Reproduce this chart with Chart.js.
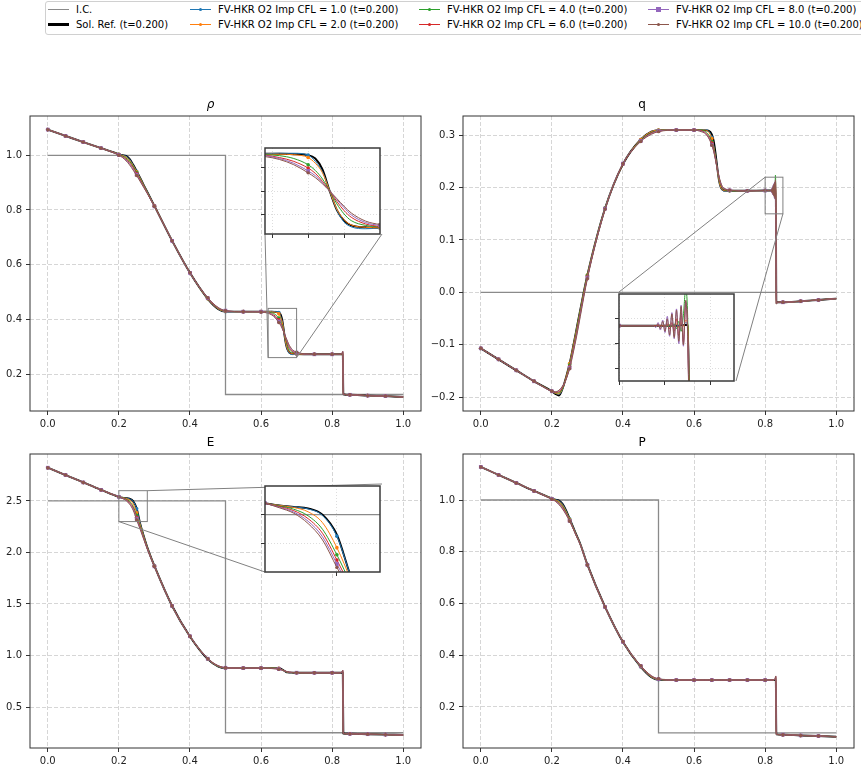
<!DOCTYPE html>
<html><head><meta charset="utf-8">
<script src="https://cdn.jsdelivr.net/npm/chart.js@4.4.0/dist/chart.umd.min.js"></script>
<style>
html,body{margin:0;padding:0;background:#fff;width:861px;height:771px;overflow:hidden;position:relative;font-family:'DejaVu Sans',sans-serif;}
canvas{position:absolute;}
canvas.inset{z-index:2;}
#legendBox{position:absolute;left:45px;top:1px;width:840px;height:32px;border:1px solid #d0d0d0;border-radius:3px;background:#fff;z-index:5;}
.lt{position:absolute;font-size:10px;line-height:12px;color:#000;white-space:nowrap;z-index:6;}
.lh{position:absolute;z-index:6;}
.lm{position:absolute;z-index:7;}
</style></head><body>
<div id="legendBox"></div>
<canvas id="cRho" width="430" height="338" style="left:0;top:95px;width:430px;height:338px"></canvas>
<canvas id="cQ" width="431" height="338" style="left:430px;top:95px;width:431px;height:338px"></canvas>
<canvas id="cE" width="430" height="338" style="left:0;top:433px;width:430px;height:338px"></canvas>
<canvas id="cP" width="431" height="338" style="left:430px;top:433px;width:431px;height:338px"></canvas>
<canvas id="iRho" class="inset" width="125" height="96" style="left:259px;top:144px;width:125px;height:96px"></canvas>
<canvas id="iQ" class="inset" width="125" height="97" style="left:613px;top:290px;width:125px;height:97px"></canvas>
<canvas id="iE" class="inset" width="125" height="96" style="left:259px;top:482px;width:125px;height:96px"></canvas>
<script>
// ---------------- data ----------------
const seriesNames = ['I.C.', 'Sol. Ref. (t=0.200)',
  'FV-HKR O2 Imp CFL = 1.0 (t=0.200)', 'FV-HKR O2 Imp CFL = 2.0 (t=0.200)',
  'FV-HKR O2 Imp CFL = 4.0 (t=0.200)', 'FV-HKR O2 Imp CFL = 6.0 (t=0.200)',
  'FV-HKR O2 Imp CFL = 8.0 (t=0.200)', 'FV-HKR O2 Imp CFL = 10.0 (t=0.200)'];
const seriesColors = ['#8a8a8a', '#000000', '#1f77b4', '#ff7f0e', '#2ca02c', '#d62728', '#9467bd', '#8c564b'];

const xTicks = [0, 0.2, 0.4, 0.6, 0.8, 1.0];
const rhoTicks = [0.2, 0.4, 0.6, 0.8, 1.0];
const qTicks = [-0.2, -0.1, 0.0, 0.1, 0.2, 0.3];
const ETicks = [0.5, 1.0, 1.5, 2.0, 2.5];
const PTicks = [0.2, 0.4, 0.6, 0.8, 1.0];

// initial condition
const icX = [0, 0.5, 0.5, 1.0];
const icRho = [1.0, 1.0, 0.125, 0.125];
const icQ = [0, 0, 0, 0];
const icE = [2.5, 2.5, 0.25, 0.25];
const icP = [1.0, 1.0, 0.1, 0.1];

// grid for rho, E, P
const X = [0,0.05,0.1,0.15,0.2, 0.21,0.22,0.23,0.24,0.25, 0.26,0.27,0.28,0.3,0.35, 0.4,0.45,0.48,0.5,0.55,
  0.6,0.62,0.63,0.64,0.65, 0.655,0.66,0.665,0.67,0.675, 0.68,0.69,0.7,0.75,0.8, 0.82,0.828,0.83,0.8315,0.85, 0.9,0.95,1.0];

const rho_ref = [1.094,1.071,1.048,1.026,1.004, 1.000,0.998,0.987,0.966,0.942, 0.917,0.891,0.866,0.815,0.687, 0.570,0.475,0.437,0.428,0.428,
  0.428,0.428,0.428,0.427,0.425, 0.418,0.395,0.350,0.310,0.288, 0.278,0.274,0.273,0.272,0.272, 0.272,0.272,0.272,0.126,0.124, 0.121,0.119,0.116];
const rho_cfl1 = [1.094,1.071,1.048,1.026,1.004, 1.000,0.997,0.986,0.965,0.941, 0.917,0.891,0.866,0.815,0.687, 0.570,0.475,0.437,0.428,0.428,
  0.428,0.428,0.429,0.429,0.425, 0.412,0.390,0.350,0.310,0.285, 0.275,0.271,0.272,0.272,0.272, 0.272,0.273,0.274,0.126,0.124, 0.121,0.119,0.116];
const rho_cfl2 = [1.094,1.071,1.048,1.026,1.004, 0.999,0.994,0.982,0.963,0.940, 0.916,0.890,0.865,0.815,0.687, 0.570,0.475,0.438,0.429,0.428,
  0.428,0.427,0.427,0.426,0.420, 0.408,0.388,0.350,0.312,0.290, 0.279,0.274,0.273,0.272,0.272, 0.272,0.274,0.276,0.126,0.124, 0.121,0.119,0.116];
const rho_cfl4 = [1.094,1.071,1.048,1.026,1.003, 0.997,0.990,0.978,0.960,0.937, 0.913,0.888,0.864,0.814,0.687, 0.570,0.476,0.440,0.430,0.428,
  0.428,0.426,0.424,0.418,0.405, 0.393,0.375,0.350,0.323,0.302, 0.288,0.278,0.275,0.272,0.272, 0.272,0.275,0.279,0.126,0.124, 0.121,0.119,0.116];
const rho_cfl6 = [1.094,1.071,1.048,1.026,1.002, 0.995,0.986,0.973,0.955,0.933, 0.910,0.886,0.862,0.814,0.687, 0.570,0.477,0.441,0.431,0.428,
  0.428,0.425,0.420,0.412,0.398, 0.387,0.370,0.350,0.328,0.309, 0.295,0.281,0.276,0.272,0.272, 0.272,0.276,0.281,0.126,0.124, 0.121,0.119,0.116];
const rho_cfl8 = [1.094,1.071,1.048,1.026,1.001, 0.993,0.983,0.969,0.950,0.929, 0.907,0.884,0.861,0.813,0.687, 0.570,0.478,0.442,0.432,0.428,
  0.428,0.424,0.418,0.408,0.392, 0.382,0.367,0.350,0.332,0.315, 0.300,0.284,0.278,0.272,0.272, 0.272,0.277,0.283,0.126,0.124, 0.121,0.119,0.116];
const rho_cfl10 = [1.094,1.071,1.048,1.026,1.000, 0.992,0.980,0.965,0.946,0.926, 0.904,0.882,0.860,0.813,0.687, 0.571,0.479,0.443,0.432,0.428,
  0.427,0.422,0.416,0.405,0.388, 0.378,0.365,0.350,0.334,0.318, 0.304,0.287,0.280,0.272,0.272, 0.272,0.277,0.283,0.126,0.124, 0.121,0.119,0.116];

const E_ref = [2.823,2.752,2.680,2.608,2.540, 2.532,2.527,2.522,2.500,2.430, 2.280,2.160,2.050,1.870,1.480, 1.185,0.965,0.892,0.877,0.877,
  0.877,0.877,0.877,0.877,0.876, 0.872,0.863,0.852,0.842,0.836, 0.834,0.833,0.832,0.832,0.832, 0.832,0.832,0.832,0.243,0.240, 0.236,0.232,0.228];
const E_cfl1 = [2.823,2.752,2.680,2.608,2.540, 2.532,2.527,2.520,2.497,2.425, 2.280,2.160,2.050,1.870,1.480, 1.185,0.965,0.892,0.877,0.877,
  0.877,0.877,0.877,0.878,0.876, 0.870,0.862,0.852,0.842,0.835, 0.833,0.832,0.832,0.832,0.832, 0.832,0.834,0.838,0.243,0.240, 0.236,0.232,0.228];
const E_cfl2 = [2.823,2.752,2.680,2.608,2.540, 2.532,2.525,2.510,2.472,2.385, 2.270,2.155,2.048,1.870,1.480, 1.185,0.966,0.894,0.878,0.877,
  0.877,0.877,0.877,0.877,0.875, 0.869,0.861,0.852,0.843,0.837, 0.834,0.833,0.832,0.832,0.832, 0.832,0.836,0.842,0.243,0.240, 0.236,0.232,0.228];
const E_cfl4 = [2.823,2.752,2.680,2.608,2.540, 2.530,2.519,2.496,2.449,2.360, 2.255,2.148,2.044,1.868,1.480, 1.186,0.967,0.896,0.879,0.877,
  0.877,0.877,0.876,0.875,0.872, 0.867,0.860,0.852,0.845,0.839, 0.836,0.834,0.833,0.832,0.832, 0.832,0.838,0.848,0.243,0.240, 0.236,0.232,0.228];
const E_cfl6 = [2.823,2.752,2.680,2.608,2.540, 2.528,2.514,2.486,2.435,2.342, 2.243,2.140,2.040,1.866,1.480, 1.186,0.968,0.898,0.880,0.877,
  0.877,0.876,0.875,0.873,0.870, 0.866,0.859,0.852,0.846,0.841, 0.837,0.834,0.833,0.832,0.832, 0.832,0.840,0.852,0.243,0.240, 0.236,0.232,0.228];
const E_cfl8 = [2.823,2.752,2.680,2.608,2.540, 2.526,2.509,2.477,2.423,2.328, 2.232,2.133,2.036,1.865,1.480, 1.187,0.969,0.899,0.881,0.877,
  0.877,0.876,0.874,0.872,0.868, 0.864,0.858,0.852,0.846,0.842, 0.838,0.835,0.833,0.832,0.832, 0.832,0.842,0.856,0.243,0.240, 0.236,0.232,0.228];
const E_cfl10 = [2.823,2.752,2.680,2.608,2.540, 2.524,2.505,2.469,2.412,2.316, 2.224,2.127,2.032,1.864,1.480, 1.187,0.970,0.900,0.882,0.877,
  0.877,0.875,0.873,0.870,0.866, 0.863,0.857,0.852,0.847,0.843, 0.839,0.835,0.834,0.832,0.832, 0.832,0.842,0.857,0.243,0.240, 0.236,0.232,0.228];

const P_ref = [1.128,1.097,1.066,1.035,1.006, 1.001,0.998,0.985,0.960,0.928, 0.895,0.862,0.830,0.750,0.586, 0.451,0.355,0.315,0.305,0.304,
  0.304,0.304,0.304,0.304,0.304, 0.304,0.304,0.304,0.304,0.304, 0.304,0.304,0.304,0.304,0.304, 0.304,0.304,0.304,0.094,0.093, 0.090,0.088,0.085];
const P_cfl1 = [1.128,1.097,1.066,1.035,1.006, 1.001,0.997,0.984,0.959,0.927, 0.895,0.862,0.830,0.750,0.586, 0.451,0.355,0.315,0.305,0.304,
  0.304,0.304,0.304,0.304,0.304, 0.304,0.304,0.304,0.304,0.304, 0.304,0.304,0.304,0.304,0.304, 0.304,0.306,0.309,0.094,0.093, 0.090,0.088,0.085];
const P_cfl2 = [1.128,1.097,1.066,1.035,1.006, 1.000,0.994,0.980,0.956,0.925, 0.893,0.861,0.829,0.750,0.586, 0.451,0.356,0.316,0.306,0.304,
  0.304,0.304,0.304,0.304,0.304, 0.304,0.304,0.304,0.304,0.304, 0.304,0.304,0.304,0.304,0.304, 0.304,0.307,0.311,0.094,0.093, 0.090,0.088,0.085];
const P_cfl4 = [1.128,1.097,1.066,1.035,1.005, 0.998,0.990,0.976,0.953,0.923, 0.891,0.860,0.829,0.749,0.586, 0.452,0.357,0.318,0.307,0.304,
  0.304,0.304,0.304,0.304,0.304, 0.304,0.304,0.304,0.304,0.304, 0.304,0.304,0.304,0.304,0.304, 0.304,0.308,0.314,0.094,0.093, 0.090,0.088,0.085];
const P_cfl6 = [1.128,1.097,1.066,1.035,1.004, 0.997,0.987,0.972,0.949,0.921, 0.890,0.859,0.828,0.749,0.586, 0.452,0.358,0.319,0.308,0.304,
  0.304,0.304,0.304,0.304,0.304, 0.304,0.304,0.304,0.304,0.304, 0.304,0.304,0.304,0.304,0.304, 0.304,0.309,0.317,0.094,0.093, 0.090,0.088,0.085];
const P_cfl8 = [1.128,1.097,1.066,1.035,1.004, 0.996,0.984,0.968,0.946,0.919, 0.889,0.858,0.828,0.749,0.586, 0.452,0.359,0.320,0.308,0.304,
  0.304,0.304,0.304,0.304,0.304, 0.304,0.304,0.304,0.304,0.304, 0.304,0.304,0.304,0.304,0.304, 0.304,0.310,0.319,0.094,0.093, 0.090,0.088,0.085];
const P_cfl10 = [1.128,1.097,1.066,1.035,1.003, 0.995,0.982,0.965,0.943,0.918, 0.889,0.858,0.828,0.749,0.586, 0.453,0.360,0.321,0.309,0.304,
  0.304,0.304,0.304,0.304,0.304, 0.304,0.304,0.304,0.304,0.304, 0.304,0.304,0.304,0.304,0.304, 0.304,0.310,0.320,0.094,0.093, 0.090,0.088,0.085];

// grid for q (denser near the shock)
const QX = [0,0.05,0.1,0.15,0.2, 0.21,0.22,0.23,0.24,0.25, 0.26,0.27,0.28,0.3,0.35, 0.4,0.45,0.48,0.5,0.55,
  0.6,0.62,0.63,0.64,0.65, 0.655,0.66,0.665,0.67,0.675, 0.68,0.69,0.7,0.75,0.8, 0.81,0.815,0.816,0.817,0.818,
  0.819,0.82,0.821,0.822,0.823, 0.824,0.825,0.826,0.827,0.828, 0.829,0.83,0.8315,0.835,0.85, 0.9,0.95,1.0];

const q_ref = [-0.107,-0.128,-0.149,-0.170,-0.189, -0.194,-0.197,-0.184,-0.162,-0.136, -0.103,-0.068,-0.033,0.033,0.161, 0.245,0.292,0.307,0.310,0.310,
  0.310,0.310,0.310,0.309,0.302, 0.290,0.268,0.240,0.215,0.201, 0.196,0.194,0.194,0.194,0.1945, 0.1945,0.1945,0.1945,0.1945,0.1945,
  0.1945,0.1945,0.1945,0.1945,0.1945, 0.1945,0.1945,0.1945,0.195,0.195, 0.195,0.195,-0.020,-0.019,-0.019, -0.017,-0.0145,-0.012];
const q_cfl1 = [-0.107,-0.128,-0.149,-0.170,-0.189, -0.193,-0.195,-0.185,-0.163,-0.137, -0.104,-0.069,-0.034,0.033,0.161, 0.245,0.292,0.307,0.310,0.310,
  0.310,0.310,0.311,0.309,0.296, 0.282,0.262,0.238,0.215,0.200, 0.195,0.193,0.194,0.194,0.1945, 0.1945,0.1945,0.1945,0.1945,0.1945,
  0.1945,0.1945,0.1945,0.1945,0.1945, 0.1945,0.195,0.1945,0.196,0.195, 0.197,0.194,-0.021,-0.019,-0.019, -0.017,-0.0145,-0.012];
const q_cfl2 = [-0.107,-0.128,-0.149,-0.170,-0.189, -0.193,-0.194,-0.184,-0.162,-0.136, -0.103,-0.069,-0.034,0.033,0.161, 0.245,0.292,0.307,0.310,0.310,
  0.310,0.310,0.310,0.307,0.294, 0.280,0.260,0.237,0.215,0.201, 0.196,0.194,0.194,0.194,0.1945, 0.1945,0.1945,0.1945,0.1945,0.1945,
  0.1945,0.1945,0.1945,0.195,0.194, 0.194,0.196,0.193,0.197,0.194, 0.199,0.194,-0.021,-0.019,-0.019, -0.017,-0.0145,-0.012];
const q_cfl4 = [-0.107,-0.128,-0.149,-0.170,-0.189, -0.192,-0.192,-0.184,-0.165,-0.139, -0.107,-0.072,-0.036,0.032,0.161, 0.245,0.290,0.305,0.309,0.310,
  0.310,0.310,0.308,0.302,0.288, 0.276,0.258,0.237,0.218,0.205, 0.199,0.195,0.194,0.194,0.1945, 0.1945,0.1945,0.1945,0.1945,0.1945,
  0.1945,0.1945,0.194,0.195,0.194, 0.196,0.192,0.198,0.190,0.203, 0.224,0.190,-0.022,-0.019,-0.019, -0.017,-0.0145,-0.012];
const q_cfl6 = [-0.107,-0.128,-0.149,-0.170,-0.189, -0.191,-0.190,-0.182,-0.166,-0.142, -0.110,-0.076,-0.040,0.030,0.160, 0.245,0.289,0.304,0.308,0.310,
  0.310,0.309,0.306,0.299,0.285, 0.273,0.256,0.237,0.220,0.207, 0.200,0.196,0.195,0.194,0.1945, 0.1945,0.1945,0.1945,0.1945,0.1945,
  0.1945,0.194,0.196,0.192,0.197, 0.190,0.200,0.186,0.205,0.181, 0.212,0.180,-0.022,-0.019,-0.019, -0.017,-0.0145,-0.012];
const q_cfl8 = [-0.107,-0.128,-0.149,-0.170,-0.189, -0.190,-0.188,-0.180,-0.166,-0.144, -0.113,-0.080,-0.043,0.028,0.160, 0.246,0.289,0.303,0.308,0.310,
  0.310,0.308,0.305,0.297,0.282, 0.271,0.255,0.237,0.221,0.209, 0.201,0.197,0.195,0.194,0.1945, 0.1945,0.1945,0.193,0.197,0.191,
  0.199,0.189,0.202,0.186,0.205, 0.184,0.208,0.180,0.211,0.178, 0.214,0.175,-0.022,-0.019,-0.019, -0.017,-0.0145,-0.012];
const q_cfl10 = [-0.107,-0.128,-0.149,-0.170,-0.189, -0.190,-0.187,-0.179,-0.166,-0.146, -0.116,-0.083,-0.046,0.026,0.159, 0.246,0.288,0.302,0.307,0.310,
  0.310,0.307,0.304,0.296,0.281, 0.270,0.254,0.237,0.222,0.210, 0.202,0.197,0.195,0.194,0.1945, 0.1945,0.1945,0.194,0.196,0.192,
  0.198,0.190,0.200,0.187,0.204, 0.185,0.207,0.182,0.210,0.179, 0.215,0.176,-0.022,-0.019,-0.019, -0.017,-0.0145,-0.012];

// inset ranges and ticks
const rhoInsetX = [0.62, 0.70], rhoInsetY = [0.26, 0.44];
const rhoInsetXTicks = [0.625, 0.65, 0.675], rhoInsetYTicks = [0.30, 0.35, 0.40];
const qInsetX = [0.80, 0.85], qInsetY = [0.15, 0.22];
const qInsetXTicks = [0.80, 0.82, 0.84], qInsetYTicks = [0.16, 0.18, 0.20];
const EInsetX = [0.20, 0.28], EInsetY = [2.30, 2.60];
const EInsetXTicks = [0.25], EInsetYTicks = [2.4, 2.5];

// ---------------- helpers ----------------
const FONT = "'DejaVu Sans', 'Liberation Sans', sans-serif";
function check(name, grid, arr) { if (grid.length !== arr.length) throw new Error(name + ': ' + arr.length + ' vs ' + grid.length); }
const rhoSeries = [rho_ref, rho_cfl1, rho_cfl2, rho_cfl4, rho_cfl6, rho_cfl8, rho_cfl10];
const qSeries = [q_ref, q_cfl1, q_cfl2, q_cfl4, q_cfl6, q_cfl8, q_cfl10];
const ESeries = [E_ref, E_cfl1, E_cfl2, E_cfl4, E_cfl6, E_cfl8, E_cfl10];
const PSeries = [P_ref, P_cfl1, P_cfl2, P_cfl4, P_cfl6, P_cfl8, P_cfl10];
rhoSeries.forEach((a, i) => check('rho' + i, X, a));
ESeries.forEach((a, i) => check('E' + i, X, a));
PSeries.forEach((a, i) => check('P' + i, X, a));
qSeries.forEach((a, i) => check('q' + i, QX, a));

// marker style per CFL series (ref has none)
const markerStyle = [null, 'circle', 'circle', 'circle', 'circle', 'rect', 'circle'];
const markerSize = [0, 1.8, 1.8, 1.8, 1.8, 2.6, 1.7];

function fmt(v) { const s = Math.abs(v).toFixed(1); return (v < -1e-9 ? '\u2212' : '') + s; }
function isMark(x) { const k = x * 20; return x < 0.999 && Math.abs(k - Math.round(k)) < 1e-6; }

function buildDatasets(grid, icY, series) {
  const ds = [{
    data: icX.map((x, i) => ({x, y: icY[i]})), borderColor: seriesColors[0], borderWidth: 1.3,
    pointRadius: 0, order: 7, tension: 0, fill: false
  }];
  series.forEach((arr, k) => {
    const col = seriesColors[k + 1];
    const isRef = k === 0;
    const r = markerSize[k];
    ds.push({
      data: grid.map((x, i) => ({x, y: arr[i]})),
      borderColor: col, backgroundColor: col, borderWidth: isRef ? 1.9 : 1,
      pointRadius: isRef ? 0 : (c => (c.raw && isMark(c.raw.x)) ? r : 0),
      pointBorderWidth: 0, pointBackgroundColor: col, pointStyle: markerStyle[k] || 'circle',
      cubicInterpolationMode: 'monotone', capBezierPoints: false,
      borderJoinStyle: 'round', order: 6 - k, fill: false
    });
  });
  return ds;
}

function framePlugin(color, width) {
  return {id: 'frame', afterDraw(chart) {
    const a = chart.chartArea, ctx = chart.ctx;
    ctx.save(); ctx.strokeStyle = color; ctx.lineWidth = width;
    ctx.strokeRect(a.left, a.top, a.right - a.left, a.bottom - a.top);
    ctx.restore();
  }};
}
const bgPlugin = {id: 'bg', beforeDraw(chart) {
  const a = chart.chartArea, ctx = chart.ctx;
  ctx.save(); ctx.fillStyle = '#fff'; ctx.fillRect(a.left, a.top, a.right - a.left, a.bottom - a.top); ctx.restore();
}};
function zoomPlugin(z, off) {
  return {id: 'zoomMark', afterDatasetsDraw(chart) {
    if (!z) return;
    const ctx = chart.ctx, xs = chart.scales.x, ys = chart.scales.y;
    const L = xs.getPixelForValue(z.xr[0]), R = xs.getPixelForValue(z.xr[1]);
    const T = ys.getPixelForValue(z.yr[1]), B = ys.getPixelForValue(z.yr[0]);
    const rc = {UL: [L, T], UR: [R, T], LL: [L, B], LR: [R, B]};
    const bl = z.box.left - off.left, bt = z.box.top - off.top;
    const ic = {UL: [bl, bt], UR: [bl + z.box.w, bt], LL: [bl, bt + z.box.h], LR: [bl + z.box.w, bt + z.box.h]};
    ctx.save(); ctx.strokeStyle = '#808080'; ctx.lineWidth = 1;
    ctx.strokeRect(L, T, R - L, B - T);
    z.corners.forEach(c => { ctx.beginPath(); ctx.moveTo(ic[c][0], ic[c][1]); ctx.lineTo(rc[c][0], rc[c][1]); ctx.stroke(); });
    ctx.restore();
  }};
}

function axisOpts(dir, range, ticks, size) {
  return {
    type: 'linear', bounds: 'data', min: range[0], max: range[1],
    afterBuildTicks: a => { a.ticks = ticks.map(v => ({value: v})); },
    afterFit: a => { if (dir === 'x') a.height = size; else a.width = size; },
    ticks: {callback: v => fmt(v), font: {family: FONT, size: 10}, color: '#222', padding: dir === 'x' ? 3 : 4, maxRotation: 0, autoSkip: false},
    grid: {color: '#cccccc', lineWidth: 0.8, drawTicks: true, tickLength: 4, tickColor: '#333', tickWidth: 1},
    border: {display: false, dash: [4, 2]}
  };
}
function insetAxis(dir, range, ticks) {
  return {
    type: 'linear', bounds: 'data', min: range[0], max: range[1],
    afterBuildTicks: a => { a.ticks = ticks.map(v => ({value: v})); },
    afterFit: a => { if (dir === 'x') a.height = 6; else a.width = 6; },
    ticks: {display: false},
    grid: {color: '#d4d4d4', lineWidth: 0.8, drawTicks: true, tickLength: 4, tickColor: '#333', tickWidth: 1},
    border: {display: false, dash: [1, 2]}
  };
}

function mainChart(id, cfg) {
  return new Chart(document.getElementById(id), {
    type: 'line',
    data: {datasets: buildDatasets(cfg.grid, cfg.ic, cfg.series)},
    options: {
      responsive: false, animation: false, devicePixelRatio: 1, events: [],
      layout: {padding: {left: 0, right: cfg.padR, top: 0, bottom: 0}},
      plugins: {
        legend: {display: false}, tooltip: {enabled: false},
        title: {display: true, text: cfg.title, color: '#000',
          font: {family: FONT, size: 12, style: cfg.titleStyle || 'normal', weight: 'normal'},
          padding: {top: 2.6, bottom: 4}}
      },
      scales: {x: axisOpts('x', [-0.05, 1.05], xTicks, cfg.xh), y: axisOpts('y', cfg.yr, cfg.yTicks, cfg.yw)}
    },
    plugins: [framePlugin('#333', 1), zoomPlugin(cfg.zoom, cfg.off)]
  });
}
function insetChart(id, cfg) {
  return new Chart(document.getElementById(id), {
    type: 'line',
    data: {datasets: buildDatasets(cfg.grid, cfg.ic, cfg.series)},
    options: {
      responsive: false, animation: false, devicePixelRatio: 1, events: [],
      layout: {padding: {left: 0, right: 2, top: 2, bottom: 0}},
      plugins: {legend: {display: false}, tooltip: {enabled: false}, title: {display: false}},
      scales: {x: insetAxis('x', cfg.xr, cfg.xt), y: insetAxis('y', cfg.yr, cfg.yt)}
    },
    plugins: [bgPlugin, framePlugin('#3a3a3a', 1.5)]
  });
}

// ---------------- charts ----------------
const rhoBox = {left: 265, top: 146, w: 117, h: 88};
const qBox = {left: 619, top: 292, w: 117, h: 89};
const EBox = {left: 265, top: 484, w: 117, h: 88};

mainChart('cRho', {grid: X, ic: icRho, series: rhoSeries, title: '\u03c1', titleStyle: 'italic',
  yr: [0.0647, 1.1437], yTicks: rhoTicks, yw: 30, xh: 22, padR: 9, off: {left: 0, top: 95},
  zoom: {xr: rhoInsetX, yr: rhoInsetY, box: rhoBox, corners: ['LL', 'LR']}});
mainChart('cQ', {grid: QX, ic: icQ, series: qSeries, title: 'q',
  yr: [-0.2267, 0.3369], yTicks: qTicks, yw: 33, xh: 22, padR: 7, off: {left: 430, top: 95},
  zoom: {xr: qInsetX, yr: qInsetY, box: qBox, corners: ['UL', 'LR']}});
mainChart('cE', {grid: X, ic: icE, series: ESeries, title: 'E',
  yr: [0.102, 2.956], yTicks: ETicks, yw: 30, xh: 23, padR: 9, off: {left: 0, top: 433},
  zoom: {xr: EInsetX, yr: EInsetY, box: EBox, corners: ['UR', 'LL']}});
mainChart('cP', {grid: X, ic: icP, series: PSeries, title: 'P',
  yr: [0.0415, 1.1778], yTicks: PTicks, yw: 33, xh: 23, padR: 7, off: {left: 430, top: 433}, zoom: null});

insetChart('iRho', {grid: X, ic: icRho, series: rhoSeries, xr: rhoInsetX, yr: rhoInsetY, xt: rhoInsetXTicks, yt: rhoInsetYTicks});
insetChart('iQ', {grid: QX, ic: icQ, series: qSeries, xr: qInsetX, yr: qInsetY, xt: qInsetXTicks, yt: qInsetYTicks});
insetChart('iE', {grid: X, ic: icE, series: ESeries, xr: EInsetX, yr: EInsetY, xt: EInsetXTicks, yt: EInsetYTicks});

// ---------------- legend ----------------
const legHandleX = [48, 190, 419, 648];
const legTextX = [76, 218, 447, 676];
const legRowY = [9.5, 24.5];
seriesNames.forEach((name, i) => {
  const col = Math.floor(i / 2), row = i % 2;
  const cy = legRowY[row];
  const lw = i === 1 ? 2.5 : (i === 0 ? 1.5 : 1);
  const h = document.createElement('div');
  h.className = 'lh';
  h.style.cssText = `left:${legHandleX[col]}px;top:${cy - lw / 2}px;width:21px;height:${lw}px;background:${seriesColors[i]};`;
  document.body.appendChild(h);
  if (i >= 2) {
    const s = markerSize[i - 1] * 2;
    const m = document.createElement('div');
    m.className = 'lm';
    const round = markerStyle[i - 1] === 'rect' ? '0' : '50%';
    m.style.cssText = `left:${legHandleX[col] + 10.5 - s / 2}px;top:${cy - s / 2}px;width:${s}px;height:${s}px;border-radius:${round};background:${seriesColors[i]};`;
    document.body.appendChild(m);
  }
  const t = document.createElement('div');
  t.className = 'lt';
  t.style.cssText = `left:${legTextX[col]}px;top:${cy - 6}px;font-family:${FONT};`;
  t.textContent = name;
  document.body.appendChild(t);
});
</script>
</body></html>
